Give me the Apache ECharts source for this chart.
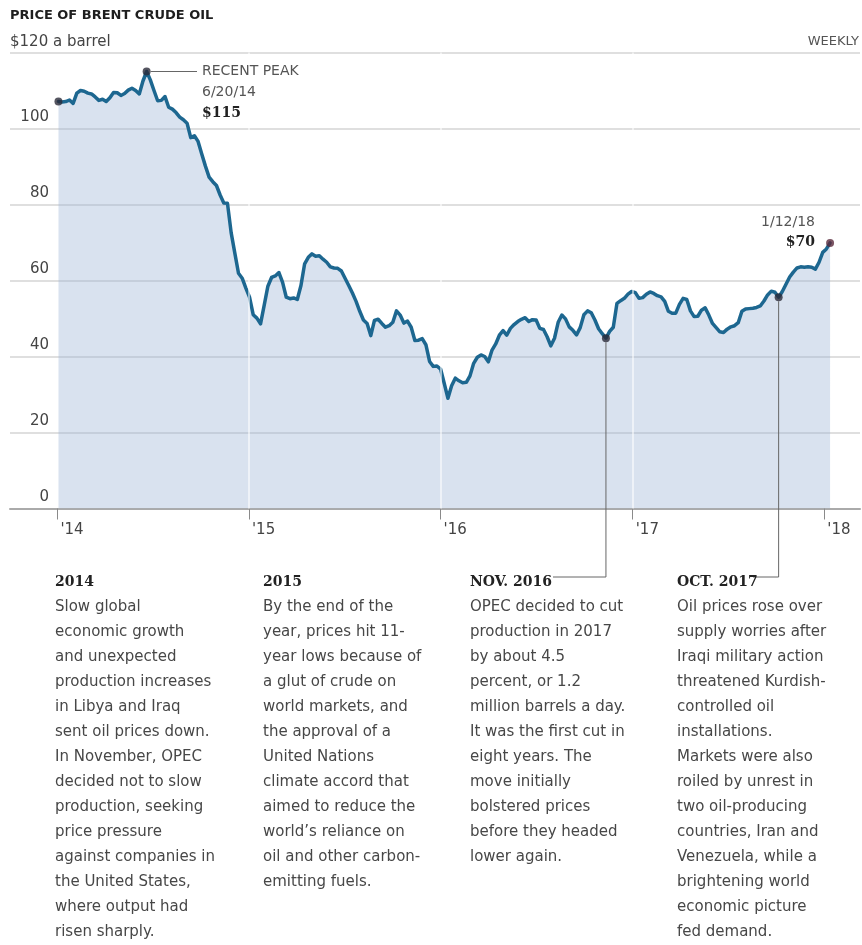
<!DOCTYPE html>
<html><head><meta charset="utf-8">
<script src="https://cdn.jsdelivr.net/npm/echarts@6/dist/echarts.min.js"></script>
<style>html,body{margin:0;padding:0;background:#fff}#c{width:862px;height:945px}</style>
</head><body><div id="c"></div>
<script>
// ---- DATA (weekly Brent crude, $ a barrel) ----
const FIRST_WEEK = '2014-01-03';           // weekly, Fridays
const prices2014 = [107.1,107.0,107.1,107.5,106.6,109.3,110.0,109.8,109.3,109.1,
  108.3,107.4,107.7,107.1,108.1,109.5,109.4,108.7,109.2,110.1,
  110.6,110.0,109.1,112.5,115.0,112.8,110.0,107.3,107.4,108.4,
  105.6,105.1,104.2,103.0,102.3,101.4,97.6,98.1,96.6,93.3,
  90.1,87.2,86.0,85.0,82.5,80.4,80.3,72.6,67.2,61.9,
  60.6,58.0];
const prices2015 = [55.6,51.0,50.1,48.6,53.5,58.5,60.8,61.2,62.1,59.5,
  55.6,55.2,55.4,55.0,58.7,64.4,66.1,67.0,66.4,66.5,
  65.6,64.8,63.6,63.3,63.2,62.5,60.6,58.7,56.7,54.5,
  51.9,49.6,48.7,45.5,49.5,49.8,48.7,47.7,48.1,49.0,
  52.0,50.9,48.8,49.3,47.7,44.2,44.3,44.7,43.1,38.7,
  37.4,37.5];
const prices2016 = [36.7,32.9,29.0,32.3,34.3,33.6,33.1,33.2,34.9,38.2,
  39.8,40.4,40.0,38.6,41.7,43.3,45.6,46.8,45.6,47.4,
  48.4,49.2,49.8,50.2,49.2,49.7,49.6,47.4,47.1,45.2,
  42.8,44.8,49.0,50.9,49.9,47.8,46.9,45.7,47.6,51.0,
  52.0,51.5,49.6,47.3,46.0,44.8,46.6,47.7,54.0,54.7,
  55.3,56.4,57.1];
const prices2017 = [56.8,55.3,55.5,56.4,57.0,56.6,56.0,55.7,54.5,51.9,
  51.4,51.4,53.7,55.3,55.0,52.0,50.5,50.6,52.2,52.8,
  50.9,48.7,47.6,46.5,46.3,47.2,47.8,48.1,48.9,51.9,
  52.5,52.6,52.7,52.9,53.3,54.6,56.2,57.2,56.9,55.6,
  57.1,59.0,60.9,62.2,63.3,63.6,63.5,63.6,63.5,63.0,
  64.8,67.4];
const prices2018 = [68.3,69.9];

const yearTicks = ['2014-01-01','2015-01-01','2016-01-01','2017-01-01','2018-01-01'];
const yTicks = [0,20,40,60,80,100,120];
const highlightDates = ['2014-01-03','2014-06-20','2016-11-11','2017-10-06','2018-01-12'];

const notes = [
  {head:'2014', body:['Slow global','economic growth','and unexpected','production increases','in Libya and Iraq','sent oil prices down.','In November, OPEC','decided not to slow','production, seeking','price pressure','against companies in','the United States,','where output had','risen sharply.']},
  {head:'2015', body:['By the end of the','year, prices hit 11-','year lows because of','a glut of crude on','world markets, and','the approval of a','United Nations','climate accord that','aimed to reduce the','world\u2019s reliance on','oil and other carbon-','emitting fuels.']},
  {head:'NOV. 2016', body:['OPEC decided to cut','production in 2017','by about 4.5','percent, or 1.2','million barrels a day.','It was the first cut in','eight years. The','move initially','bolstered prices','before they headed','lower again.']},
  {head:'OCT. 2017', body:['Oil prices rose over','supply worries after','Iraqi military action','threatened Kurdish-','controlled oil','installations.','Markets were also','roiled by unrest in','two oil-producing','countries, Iran and','Venezuela, while a','brightening world','economic picture','fed demand.']}
];

// ---- build ----
const DAY = 864e5;
const ts = s => { const [y,m,d] = s.split('-').map(Number); return Date.UTC(y, m-1, d); };
const allPrices = [].concat(prices2014, prices2015, prices2016, prices2017, prices2018);
const t0 = ts(FIRST_WEEK);
const series = allPrices.map((v,i) => [t0 + i*7*DAY, v]);
const findPt = s => series.find(p => p[0] === ts(s));
const hl = highlightDates.map(findPt);
const yearTs = yearTicks.map(ts);
const T2014 = ts('2014-01-01');

const SANS = '"DejaVu Sans"';
const SERIF = '"DejaVu Serif"';
const chart = echarts.init(document.getElementById('c'), null, {renderer:'canvas'});

const option = {
  animation:false,
  backgroundColor:'#fff',
  grid:{left:10, right:2, top:52.5, bottom:436.5, containLabel:false, outerBoundsMode:'none'},
  xAxis:{
    type:'value', min:T2014 - 90.3*DAY, max:T2014 + 1529*DAY,
    splitLine:{show:false},
    axisLine:{show:true, onZero:false, lineStyle:{color:'#aaaaaa', width:2}},
    axisTick:{show:true, customValues:yearTs, length:11, lineStyle:{color:'#8a8a8a', width:1}},
    axisLabel:{show:true, customValues:yearTs, margin:14, align:'left', padding:[0,0,0,3],
      color:'#444', fontFamily:SANS, fontSize:15,
      formatter:v => "'" + String(new Date(v).getUTCFullYear()).slice(2)}
  },
  yAxis:{
    type:'value', min:0, max:120, interval:20,
    axisLine:{show:false}, axisTick:{show:false},
    splitLine:{show:true, lineStyle:{color:'#d4d4d4', width:1.5}},
    axisLabel:{inside:true, margin:39, align:'right', verticalAlign:'bottom', padding:[0,0,4,0],
      color:'#444', fontFamily:SANS, fontSize:15,
      formatter:v => (v === 120 ? '' : String(v))}
  },
  series:[
    {type:'line', data:series, showSymbol:false, silent:true, z:2,
     lineStyle:{width:0}, areaStyle:{color:'rgba(155,180,213,0.55)', origin:'start'},
     markLine:{silent:true, symbol:'none', label:{show:false},
       lineStyle:{color:'rgba(255,255,255,0.75)', width:1.5, type:'solid'},
       data:yearTs.slice(1,4).map(t => ({xAxis:t}))}},
    {type:'line', data:series, showSymbol:false, silent:true, z:3,
     lineStyle:{color:'#1d6790', width:3.5, cap:'round', join:'round'}},
    {type:'scatter', data:hl, symbolSize:8, z:5, silent:true,
     itemStyle:{color:(p => p.dataIndex === hl.length-1 ? '#5a2a3c' : '#2b2b38')}}
  ]
};
chart.setOption(option);

function txt(x, y, text, st) {
  return {type:'text', x:x, y:y, silent:true, z:10,
    style:Object.assign({text:text, fill:'#444', font:'15px ' + SANS, align:'left', verticalAlign:'middle'}, st || {})};
}
function pline(points) {
  return {type:'polyline', silent:true, z:9, shape:{points:points}, style:{stroke:'#666', lineWidth:1, fill:null}};
}

const px = p => chart.convertToPixel({gridIndex:0}, p);
const pPeak = px(hl[1]), pNov = px(hl[2]), pOct = px(hl[3]), pEnd = px(hl[4]);
const colX = [55, 263, 470, 677];

const g = [
  txt(10, 15.5, 'PRICE OF BRENT CRUDE OIL', {font:'bold 13px ' + SANS, fill:'#1e1e1e'}),
  txt(10, 42, '$120 a barrel', {font:'15px ' + SANS, fill:'#444'}),
  txt(859, 42, 'WEEKLY', {font:'13px ' + SANS, fill:'#555', align:'right'}),
  // peak annotation
  pline([[pPeak[0] + 4, pPeak[1]], [197, pPeak[1]]]),
  txt(202, pPeak[1], 'RECENT PEAK', {font:'14px ' + SANS, fill:'#555'}),
  txt(202, pPeak[1] + 20.5, '6/20/14', {font:'14px ' + SANS, fill:'#555'}),
  txt(202, pPeak[1] + 42, '$115', {font:'bold 14px ' + SERIF, fill:'#222'}),
  // end annotation
  txt(815, 222.7, '1/12/18', {font:'14px ' + SANS, fill:'#555', align:'right'}),
  txt(815, 242.7, '$70', {font:'bold 14px ' + SERIF, fill:'#222', align:'right'}),
  // connectors
  pline([[pNov[0], pNov[1] + 4], [pNov[0], 577], [553, 577]]),
  pline([[pOct[0], pOct[1] + 4], [pOct[0], 577], [753, 577]])
];
notes.forEach((n, i) => {
  g.push(txt(colX[i], 582, n.head, {font:'bold 14px ' + SERIF, fill:'#222'}));
  g.push(txt(colX[i], 594.2, n.body.join('\n'), {font:'15px ' + SANS, fill:'#474747', verticalAlign:'top', lineHeight:25}));
});
chart.setOption({graphic:{elements:g}});
</script>
</body></html>
